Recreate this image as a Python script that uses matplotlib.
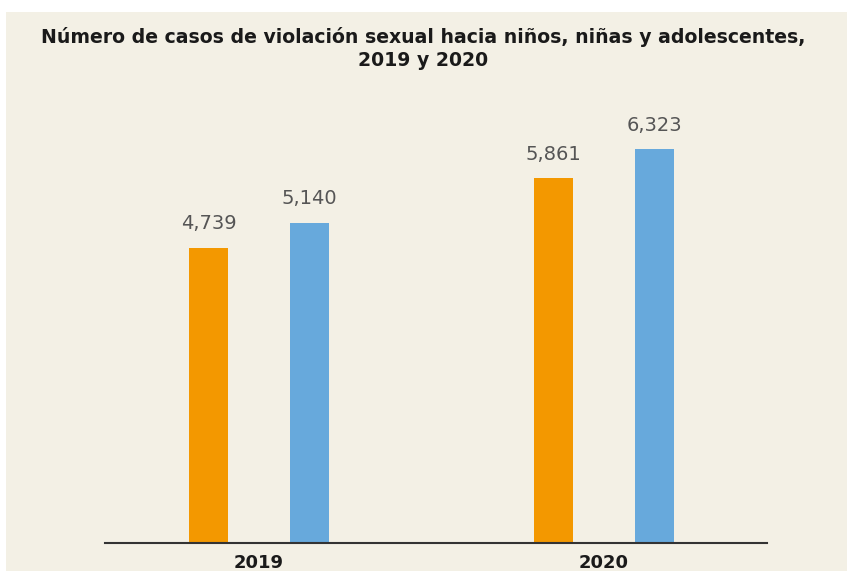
import numpy as np
import matplotlib
matplotlib.use('Agg')
import matplotlib.pyplot as plt
from matplotlib.patches import Rectangle

years = ["2019", "2020"]
serie_naranja = [4739, 5861]
serie_azul = [5140, 6323]

BG = "#f3f0e5"
NARANJA = "#f39800"
AZUL = "#67a9dc"

W, H = 847, 571
fig = plt.figure(figsize=(W / 100, H / 100), dpi=100)
fig.patch.set_facecolor("white")
# panel beige (con borde blanco arriba e izquierda)
fig.patches.append(Rectangle((6 / W, 0), 1, 1 - 12 / H, transform=fig.transFigure,
                             facecolor=BG, edgecolor="none", zorder=-10))

# ejes en pixeles: x 105..767, y 543 (base) .. 100 (top)
ax = fig.add_axes([105 / W, 1 - 543 / H, (767 - 105) / W, (543 - 100) / H])
ax.set_facecolor("none")
ax.set_zorder(5)

x = np.arange(len(years))
ancho = 0.113
desp = 0.146
ax.bar(x - desp, serie_naranja, ancho, color=NARANJA, zorder=2)
ax.bar(x + desp, serie_azul, ancho, color=AZUL, zorder=2)

for xi, v in zip(x - desp, serie_naranja):
    ax.text(xi, v + 230, f"{v:,}", ha="center", va="bottom", fontsize=14, color="#555555")
for xi, v in zip(x + desp, serie_azul):
    ax.text(xi, v + 230, f"{v:,}", ha="center", va="bottom", fontsize=14, color="#555555")

ax.set_xlim(-0.446, 1.472)
ax.set_ylim(0, (543 - 100) / 0.0623)
ax.set_xticks(x)
ax.set_xticklabels(years, fontsize=13, fontweight="bold", color="#1a1a1a")
ax.tick_params(axis="x", length=0, pad=8)
ax.set_yticks([])
for s in ["top", "right", "left"]:
    ax.spines[s].set_visible(False)
ax.spines["bottom"].set_color("#333333")
ax.spines["bottom"].set_linewidth(1.5)

fig.text(0.5, 1 - 37 / H, "Número de casos de violación sexual hacia niños, niñas y adolescentes,",
         ha="center", va="center", fontsize=13.6, fontweight="bold", color="#1a1a1a")
fig.text(0.5, 1 - 60 / H, "2019 y 2020",
         ha="center", va="center", fontsize=13.6, fontweight="bold", color="#1a1a1a")

fig.savefig("out.png", dpi=100)
